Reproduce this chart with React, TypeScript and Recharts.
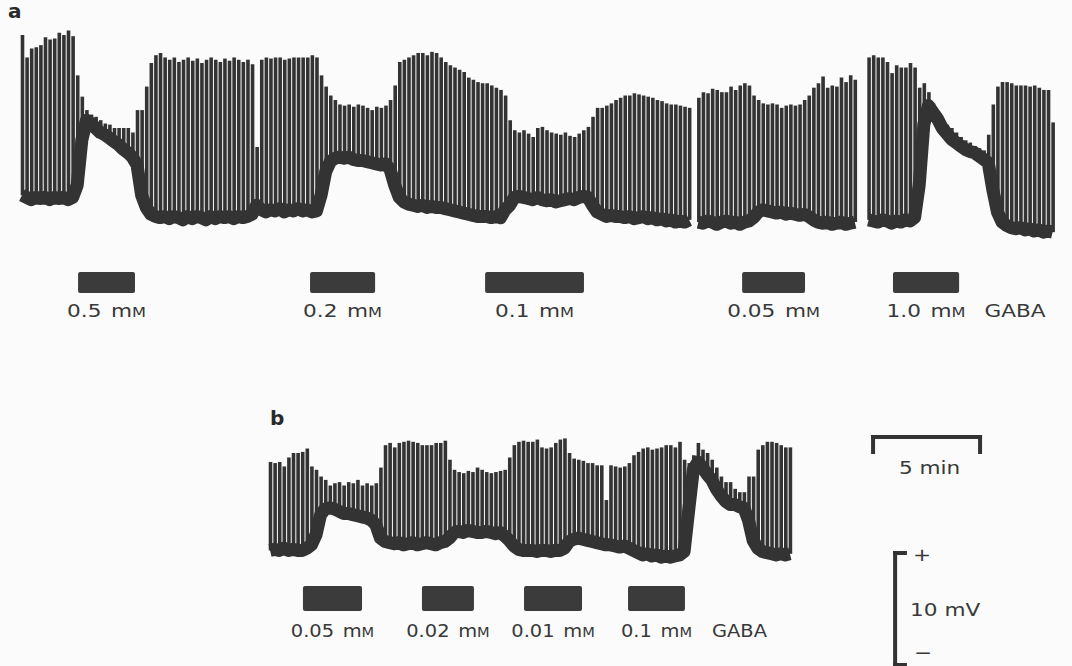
import { ComposedChart, Bar, Line, XAxis, YAxis, ReferenceArea, ReferenceLine } from 'recharts';

// chart-record sampling: one spike slot per step, in minutes
const STEP_MIN = 0.215;

// trace a: spike peak and trough (mV, arbitrary zero), null where the pen is lifted
const aPeak = [
  18.3, 16.3, 17.1, 17.2, 17.4, 18.1, 17.9, 18.0, 18.5, 18.3, 18.7, 18.2,
  14.7, 12.8, 11.6, 11.2, 11.0, 10.7, 10.4, 10.3, 10.0, 10.0, 10.0, 10.0, 9.6, 11.6,
  11.6, 13.7, 15.8, 16.5, 16.7, 16.3, 16.1, 16.3, 15.9, 16.1, 16.3, 16.0, 16.2, 15.8, 16.1, 16.3, 16.1, 15.9, 16.2, 16.0,
  16.3, 16.1, 15.9, 16.1, 15.7, 8.3, 16.1, 16.3, 16.2, 16.3, 16.3, 16.1, 16.2, 16.3, 16.3, 16.3, 16.3, 16.5, 16.3,
  14.7, 13.7, 12.9, 12.5, 12.1, 12.0, 12.1, 11.9, 12.1, 12.0, 11.8, 11.6, 11.9, 11.8, 12.0, 12.5,
  13.8, 15.9, 16.1, 16.3, 16.5, 16.7, 16.7, 16.5, 16.8, 16.7, 16.3, 15.9, 15.6, 15.4, 15.2, 15.0, 14.5, 14.3, 14.1, 14.0,
  14.0, 13.8, 13.6, 13.4, 12.9,
  10.7, 9.8, 9.6, 9.8, 9.5, 9.2, 10.0, 10.1, 9.8, 9.6, 9.5, 9.4, 9.6, 9.3, 9.2, 9.5, 9.8, 10.1,
  11.0, 11.8, 11.8, 12.0, 12.2, 12.5, 12.7, 12.9, 12.9, 13.1, 13.0, 12.9, 12.8, 12.7, 12.5, 12.4, 12.2, 12.1, 12.1, 12.0,
  11.9, 11.8,
  null,
  12.7, 13.2, 13.1, 13.5, 13.4, 13.2, 13.2, 13.7, 13.4, 13.8, 14.0, 13.8, 12.9, 12.5, 12.2, 12.1, 12.2, 12.1, 11.8, 12.0,
  12.1, 12.0, 12.1, 12.5, 12.9, 13.6, 14.0, 14.6, 13.6, 13.8, 13.7, 14.5, 14.1, 14.7, 14.3,
  null, null,
  16.3, 16.5, 16.3, 16.3, 15.9, 14.9, 15.6, 15.4, 15.4, 15.8, 15.4,
  13.6, 14.0, 13.2, 12.2, 11.4, 10.7, 10.3, 10.0, 9.6, 9.2, 8.9, 8.7, 8.4, 8.2, 8.0, 9.4,
  12.1, 13.7, 14.1, 14.1, 14.0, 13.8, 13.8, 13.8, 13.7, 13.8, 13.6, 13.4, 13.4, 10.5,
];
const aBase = [
  4.0, 3.8, 3.6, 3.8, 3.7, 3.8, 3.6, 3.8, 3.7, 3.8, 3.6, 3.8,
  4.9, 8.9, 10.7, 10.4, 10.0, 9.6, 9.4, 9.1, 8.8, 8.5, 8.1, 7.8, 7.4, 6.7,
  4.0, 2.9, 2.3, 2.1, 2.0, 2.1, 1.9, 2.1, 2.0, 1.8, 2.1, 1.9, 2.1, 2.0, 1.8, 2.1, 1.9, 2.1, 2.0, 2.1,
  1.9, 2.1, 2.0, 2.1, 2.3, 3.1, 2.7, 2.5, 2.7, 2.6, 2.8, 2.5, 2.7, 2.6, 2.8, 2.6, 2.7, 2.5, 2.6,
  4.0, 6.1, 7.0, 7.3, 7.4, 7.3, 7.4, 7.2, 7.1, 7.1, 7.0, 6.9, 6.8, 6.7, 6.8, 6.3,
  4.9, 3.8, 3.4, 3.2, 3.1, 3.0, 3.1, 2.9, 3.0, 2.9, 2.9, 2.8, 2.7, 2.6, 2.5, 2.4, 2.3, 2.2, 2.1, 2.1,
  2.1, 2.0, 2.1, 2.0, 2.7,
  3.1, 3.8, 3.9, 3.8, 3.7, 3.6, 3.8, 3.6, 3.5, 3.6, 3.4, 3.5, 3.6, 3.7, 3.6, 3.8, 3.9, 3.8,
  3.1, 2.5, 2.3, 2.1, 2.2, 2.1, 2.1, 2.0, 2.1, 1.9, 2.0, 2.1, 1.9, 2.0, 1.8, 1.9, 1.7, 1.8, 1.6, 1.7,
  1.6, 1.8,
  null,
  1.6, 1.5, 1.7, 1.6, 1.4, 1.6, 1.7, 1.5, 1.6, 1.4, 1.6, 1.7, 2.0, 2.5, 2.7, 2.6, 2.5, 2.4, 2.5, 2.3,
  2.4, 2.3, 2.2, 2.3, 2.1, 1.8, 1.6, 1.5, 1.6, 1.4, 1.5, 1.6, 1.4, 1.5, 1.6,
  null, null,
  1.8, 1.7, 1.6, 1.8, 1.7, 1.5, 1.7, 1.6, 1.8, 1.7, 2.0,
  4.9, 10.3, 12.0, 11.4, 10.8, 10.0, 9.5, 9.0, 8.7, 8.4, 8.1, 7.9, 7.8, 7.5, 7.2, 6.9,
  4.5, 2.5, 1.6, 1.3, 1.1, 1.0, 1.1, 0.9, 1.0, 0.8, 0.9, 0.7, 0.8, 0.7,
];

// trace b
const bPeak = [
  9.2, 9.1, 9.2, 8.8, 9.6, 10.0, 10.0, 10.1, 10.4, 8.8,
  8.5, 7.9, 7.6, 7.1, 7.3, 7.4, 7.1, 7.4, 7.3, 7.6, 7.1, 7.3, 7.1, 7.3,
  8.7, 10.7, 10.9, 10.5, 10.9, 11.0, 11.1, 11.0, 10.9, 10.7, 10.7, 10.7, 10.9, 10.9, 11.1, 9.4,
  8.5, 8.3, 8.2, 8.4, 8.3, 8.7, 8.5, 8.3, 8.2, 8.3, 8.4, 8.5,
  9.6, 10.7, 11.0, 11.1, 11.0, 11.0, 11.2, 10.5, 10.4, 10.5, 10.9, 11.2,
  11.3, 10.0, 9.5, 9.4, 9.3, 9.1, 9.1, 8.9, 8.9,
  5.8,
  8.9, 8.8, 8.7, 8.8, 9.1, 9.8, 10.1, 10.4, 10.5, 10.3, 10.4, 10.5, 10.7, 10.7, 10.5, 11.0, 9.4,
  9.1, 9.8, 10.9, 10.3, 10.0, 9.4, 8.7, 7.9, 7.4, 7.4, 6.8, 6.5, 6.5, 7.9, 7.9,
  10.3, 10.7, 11.0, 11.0, 10.9, 10.7, 10.5, 10.5,
];
const bBase = [
  1.3, 1.4, 1.3, 1.5, 1.3, 1.4, 1.3, 1.3, 1.5, 1.8,
  2.7, 4.5, 5.0, 5.1, 5.0, 4.8, 4.6, 4.6, 4.5, 4.4, 4.3, 4.2, 4.0, 3.6,
  2.4, 2.1, 2.0, 1.9, 2.0, 1.8, 1.9, 2.0, 1.8, 1.9, 2.0, 1.9, 1.8, 2.0, 2.1, 2.4,
  2.9, 3.0, 2.9, 3.1, 3.0, 2.9, 2.9, 3.0, 2.9, 2.8, 2.9, 2.6,
  2.2, 1.7, 1.4, 1.3, 1.3, 1.3, 1.2, 1.3, 1.3, 1.2, 1.3, 1.3,
  1.5, 2.1, 2.3, 2.4, 2.3, 2.2, 2.1, 2.0, 1.9,
  1.8,
  1.8, 1.7, 1.6, 1.7, 1.5, 1.3, 1.1, 0.9, 1.0, 0.8, 0.9, 0.7, 0.8, 0.7, 0.8, 0.9, 1.2,
  4.9, 8.5, 9.2, 8.7, 8.1, 7.6, 6.8, 6.2, 5.7, 5.4, 5.4, 5.2, 5.1, 4.0, 2.2,
  1.5, 1.2, 1.1, 1.0, 0.9, 1.0, 0.9, 1.0,
];

// GABA applications (min from start of each trace) and doses (mM)
const aDoseStart = [2.62, 13.46, 21.64, 33.65, 40.70];
const aDoseEnd = [5.28, 16.50, 26.26, 36.59, 43.79];
const aDoses = ['0.5', '0.2', '0.1', '0.05', '1.0'];
const bDoseStart = [1.54, 7.10, 11.87, 16.73];
const bDoseEnd = [4.30, 9.53, 14.58, 19.39];
const bDoses = ['0.05', '0.02', '0.01', '0.1'];

// calibration: 5 min, 10 mV (placed in trace b coordinates)
const CAL_MIN = 5;
const CAL_MV = 10;

const INK = '#333333';
const TEXT = '#383838';
const FONT = '"DejaVu Sans", "Liberation Sans", sans-serif';

const toRows = (peak: (number | null)[], base: (number | null)[]) =>
  peak.map((p, i) => ({
    t: i * STEP_MIN,
    base: base[i],
    range: p == null || base[i] == null ? null : [base[i], p],
  }));

const aRows = toRows(aPeak, aBase);
const bRows = toRows(bPeak, bBase);

function DoseLabel(props: any) {
  const { viewBox, txt, sx, shiftY, gabaDx } = props;
  if (!viewBox) return null;
  const cx = viewBox.x + viewBox.width / 2;
  const y = viewBox.y + viewBox.height + shiftY;
  return (
    <g fill={TEXT} fontFamily={FONT} fontSize={18}>
      <text transform={`translate(${cx},${y}) scale(${sx},1)`} textAnchor="middle">
        {txt}
        <tspan dx={8}>m</tspan>
        <tspan fontSize={13.5}>M</tspan>
      </text>
      {gabaDx ? (
        <text transform={`translate(${cx + gabaDx},${y}) scale(${sx},1)`} textAnchor="middle">GABA</text>
      ) : null}
    </g>
  );
}

function CalText(props: any) {
  const { viewBox, items } = props;
  if (!viewBox) return null;
  return (
    <g fill={TEXT} fontFamily={FONT} fontSize={18}>
      {items.map((it: any) => {
        const x = viewBox.x + viewBox.width * it.fx + it.ox;
        const y = viewBox.y + viewBox.height * it.fy + it.oy;
        return (
          <text key={it.s} transform={`translate(${x},${y}) scale(1.2,1)`} textAnchor={it.anchor}>
            {it.s}
          </text>
        );
      })}
    </g>
  );
}

function traceMarks() {
  return [
    <Bar key="spikes" dataKey="range" barSize={3.6} fill={INK} isAnimationActive={false} />,
    <Line
      key="base"
      dataKey="base"
      type="linear"
      stroke={INK}
      strokeWidth={13}
      strokeLinejoin="round"
      dot={false}
      activeDot={false}
      connectNulls={false}
      isAnimationActive={false}
    />,
  ];
}

export default function App() {
  const calT = 28.18;
  const calTop = 11.43;
  const mvT = 29.21;
  const mvBottom = -8.93;
  return (
    <div style={{ position: 'absolute', left: 0, top: 0, width: 1072, height: 666, background: '#fbfbfb', overflow: 'hidden' }}>
      <div style={{ position: 'absolute', left: 0, top: 0 }}>
        <ComposedChart width={1072} height={340} data={aRows} margin={{ top: 0, right: 0, bottom: 0, left: 0 }}>
          <XAxis type="number" dataKey="t" domain={[-1.028, 49.065]} hide allowDataOverflow height={0} />
          <YAxis type="number" domain={[-8.929, 21.429]} hide allowDataOverflow width={0} />
          {traceMarks()}
          {aDoses.map((d, i) => (
            <ReferenceArea
              key={'a' + i}
              x1={aDoseStart[i]}
              x2={aDoseEnd[i]}
              y1={-4.73}
              y2={-2.86}
              fill="#3b3b3b"
              fillOpacity={1}
              stroke="none"
              radius={2}
              ifOverflow="visible"
              label={<DoseLabel txt={d} sx={1.2} shiftY={24} gabaDx={i === aDoses.length - 1 ? 89 : 0} />}
            />
          ))}
        </ComposedChart>
      </div>
      <div style={{ position: 'absolute', left: 0, top: 400 }}>
        <ComposedChart width={1072} height={266} data={bRows} margin={{ top: 0, right: 0, bottom: 0, left: 0 }}>
          <XAxis type="number" dataKey="t" domain={[-12.617, 37.476]} hide allowDataOverflow height={0} />
          <YAxis type="number" domain={[-9.018, 14.732]} hide allowDataOverflow width={0} />
          {traceMarks()}
          {bDoses.map((d, i) => (
            <ReferenceArea
              key={'b' + i}
              x1={bDoseStart[i]}
              x2={bDoseEnd[i]}
              y1={-4.11}
              y2={-1.88}
              fill="#3b3b3b"
              fillOpacity={1}
              stroke="none"
              radius={2}
              ifOverflow="visible"
              label={<DoseLabel txt={d} sx={1.08} shiftY={26} gabaDx={i === bDoses.length - 1 ? 83 : 0} />}
            />
          ))}
          <ReferenceLine
            segment={[{ x: calT, y: calTop }, { x: calT + CAL_MIN, y: calTop }]}
            stroke={INK}
            strokeWidth={4}
            strokeLinecap="square"
            ifOverflow="visible"
            label={<CalText items={[{ s: '5 min', fx: 0.5, ox: 3, fy: 0, oy: 37, anchor: 'middle' }]} />}
          />
          <ReferenceLine segment={[{ x: calT, y: calTop }, { x: calT, y: calTop - 1.34 }]} stroke={INK} strokeWidth={4} strokeLinecap="square" ifOverflow="visible" />
          <ReferenceLine segment={[{ x: calT + CAL_MIN, y: calTop }, { x: calT + CAL_MIN, y: calTop - 1.34 }]} stroke={INK} strokeWidth={4} strokeLinecap="square" ifOverflow="visible" />
          <ReferenceLine
            segment={[{ x: mvT, y: mvBottom }, { x: mvT, y: mvBottom + CAL_MV }]}
            stroke={INK}
            strokeWidth={4}
            strokeLinecap="square"
            ifOverflow="visible"
            label={
              <CalText
                items={[
                  { s: '10 mV', fx: 0, ox: 15, fy: 0.5, oy: 7, anchor: 'start' },
                  { s: '+', fx: 0, ox: 27, fy: 0, oy: 8, anchor: 'middle' },
                  { s: '−', fx: 0, ox: 28, fy: 1, oy: -6, anchor: 'middle' },
                ]}
              />
            }
          />
          <ReferenceLine segment={[{ x: mvT, y: mvBottom + CAL_MV }, { x: mvT + 0.46, y: mvBottom + CAL_MV }]} stroke={INK} strokeWidth={4} strokeLinecap="square" ifOverflow="visible" />
          <ReferenceLine segment={[{ x: mvT, y: mvBottom }, { x: mvT + 0.46, y: mvBottom }]} stroke={INK} strokeWidth={4} strokeLinecap="square" ifOverflow="visible" />
        </ComposedChart>
      </div>
      <svg width={1072} height={666} style={{ position: 'absolute', left: 0, top: 0, pointerEvents: 'none' }}>
        <g fill="#2a2a2a" fontFamily={FONT} fontSize={20} fontWeight="bold">
          <text x={8} y={18}>a</text>
          <text x={270} y={425}>b</text>
        </g>
      </svg>
    </div>
  );
}
